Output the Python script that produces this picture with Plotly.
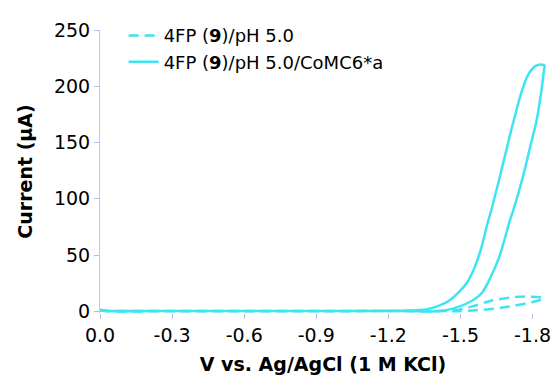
import plotly.graph_objects as go

# Dashed CV: 4FP (9)/pH 5.0 (forward sweep, then return sweep)
v_dash = [0.0, -0.03, -0.3, -0.6, -0.9, -1.2, -1.40, -1.481, -1.564, -1.646, -1.728, -1.797, -1.845,
          -1.845, -1.783, -1.715, -1.632, -1.550, -1.481, -1.40, -1.2, -0.9, -0.6, -0.3, -0.03, 0.0]
i_dash = [1.2, 0.4, 0.2, 0.2, 0.2, 0.2, 0.1, 0.0, 0.9, 2.4, 5.2, 8.1, 11.0,
          12.0, 13.1, 12.5, 9.6, 4.4, 0.9, 0.3, 0.2, 0.1, 0.0, 0.0, 0.0, 0.5]

# Solid CV: 4FP (9)/pH 5.0/CoMC6*a (forward sweep, then return sweep)
v_solid = [0.0, -0.03, -0.3, -0.6, -0.9, -1.2, -1.30, -1.399, -1.468, -1.550, -1.590, -1.625, -1.660,
           -1.685, -1.704, -1.722, -1.761, -1.794, -1.817, -1.837, -1.848, -1.850,
           -1.835, -1.811, -1.783, -1.756, -1.726, -1.698, -1.665, -1.630, -1.610,
           -1.585, -1.555, -1.523, -1.454, -1.372, -1.317, -1.2, -0.9, -0.6, -0.3, -0.03, 0.0]
i_solid = [1.5, 0.5, 0.3, 0.3, 0.3, 0.3, 0.2, 0.0, 2.4, 9.6, 16.5, 30.0, 47.5,
           65.0, 79.5, 91.2, 120.4, 149.5, 169.8, 196.1, 215.0, 218.5,
           219.4, 217.9, 210.7, 196.1, 173.1, 149.5, 120.4, 91.2, 76.0,
           55.0, 37.0, 24.2, 9.6, 2.4, 0.9, 0.5, 0.3, 0.2, 0.2, 0.3, 0.8]

x_ticks = [0.0, -0.3, -0.6, -0.9, -1.2, -1.5, -1.8]
x_tick_labels = ["0.0", "-0.3", "-0.6", "-0.9", "-1.2", "-1.5", "-1.8"]
y_ticks = [0, 50, 100, 150, 200, 250]

color = "#3de4f4"
font = "DejaVu Sans"

fig = go.Figure()
fig.add_trace(go.Scatter(x=v_dash, y=i_dash, mode="lines",
                         name="4FP (<b>9</b>)/pH 5.0",
                         line=dict(color=color, width=2.5, dash="10px,6px",
                                   shape="spline", smoothing=0.5)))
fig.add_trace(go.Scatter(x=v_solid, y=i_solid, mode="lines",
                         name="4FP (<b>9</b>)/pH 5.0/CoMC6*a",
                         line=dict(color=color, width=2.5, shape="spline", smoothing=0.8)))

# page body has an 8px margin, so the figure is sized/offset to compensate
fig.update_layout(
    width=552, height=377,
    margin=dict(l=92, r=9, t=17, b=72),
    paper_bgcolor="white", plot_bgcolor="white",
    font=dict(family=font, color="black"),
    showlegend=True,
    legend=dict(x=0.053, y=1.045, xanchor="left", yanchor="top",
                bgcolor="rgba(0,0,0,0)", font=dict(size=18, family=font),
                itemwidth=30, tracegroupgap=0),
    xaxis=dict(range=[0, -1.856], tickvals=x_ticks, ticktext=x_tick_labels,
               showgrid=False, zeroline=False, showline=False,
               ticks="outside", ticklen=5, tickcolor="#b8b8e8", tickwidth=1,
               ticklabeloverflow="allow",
               tickfont=dict(size=19, family=font),
               title=dict(text="<b>V vs. Ag/AgCl (1 M KCl)</b>",
                          font=dict(size=19, family=font), standoff=12)),
    yaxis=dict(range=[-1.5, 250], tickvals=y_ticks,
               showgrid=False, zeroline=False, showline=True,
               linecolor="#c8c8d4", linewidth=1,
               ticks="outside", ticklen=5, tickcolor="#b8b8e8", tickwidth=1,
               tickfont=dict(size=19, family=font),
               title=dict(text="<b>Current (μA)</b>",
                          font=dict(size=19, family=font), standoff=16)),
)

fig.write_html("out.html")
